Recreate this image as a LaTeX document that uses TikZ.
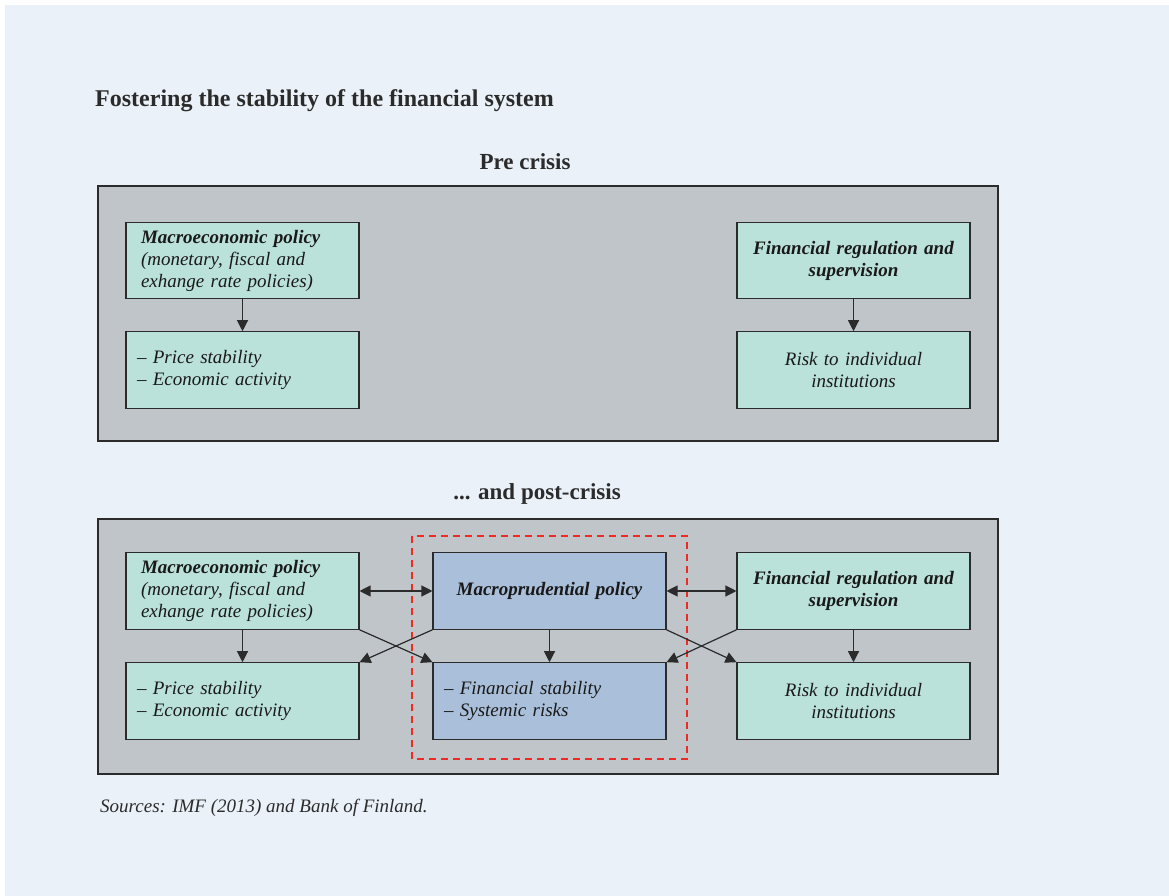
\documentclass[tikz,border=0pt]{standalone}
\usepackage{fontspec}
\setmainfont{Liberation Serif}
\usetikzlibrary{arrows.meta}
\definecolor{bgblue}{HTML}{EAF1F8}
\definecolor{panelgray}{HTML}{C0C5CA}
\definecolor{teal}{HTML}{BBE2DA}
\definecolor{bluebox}{HTML}{AABFD9}
\definecolor{edge}{HTML}{2B2B2B}
\definecolor{dashred}{HTML}{EE2A24}
\tikzset{
  panel/.style={draw=edge, line width=1.3pt, fill=panelgray},
  box/.style={draw=edge, line width=1.1pt, minimum width=233pt, minimum height=76.5pt, inner ysep=0pt, font=\fontsize{19}{22}\selectfont\itshape, text=black!90},
  tealbox/.style={box, fill=teal},
  bluebx/.style={box, fill=bluebox},
  leftbox/.style={text width=211pt, inner xsep=11pt, align=left},
  leftboxwide/.style={text width=203pt, inner xsep=15pt, align=left},
  centerbox/.style={text width=223pt, inner xsep=5pt, align=center},
  arr/.style={draw=edge, line width=1.2pt, -{Triangle[length=11pt,width=11pt]}},
  darr/.style={draw=edge, line width=1.2pt, {Triangle[length=11pt,width=11pt]}-{Triangle[length=11pt,width=11pt]}},
  heading/.style={font=\fontsize{23}{26}\selectfont\bfseries, text=edge},
}
\begin{document}
\begin{tikzpicture}[x=1pt,y=-1pt]
\useasboundingbox (0,0) rectangle (1169,896);
\fill[white] (0,0) rectangle (1169,896);
\fill[bgblue] (5,5) rectangle (1169,896);

\node[heading, font=\fontsize{24}{27}\selectfont\bfseries, anchor=west, inner sep=0pt] (title) at (95,101) {Fostering the stability of the financial system};
\node[heading] (pre) at (525,162) {Pre crisis};

% Pre crisis panel
\draw[panel] (98,186) rectangle (998,441);
\node[tealbox, leftboxwide] (m1) at (242.5,260.5) {\textbf{Macroeconomic policy}\\(monetary, fiscal and\\exhange rate policies)};
\node[tealbox, leftbox] (p1) at (242.5,370) {– Price stability\\– Economic activity};
\node[tealbox, centerbox] (f1) at (853.5,260.5) {\textbf{Financial regulation and}\\\textbf{supervision}};
\node[tealbox, centerbox] (r1) at (853.5,370) {Risk to individual\\institutions};
\draw[arr] (m1) -- (p1);
\draw[arr] (f1) -- (r1);

% Post crisis panel
\node[heading] (post) at (537,494) {... and post-crisis};
\draw[panel] (98,519) rectangle (998,774);
\draw[dashred, line width=2.4pt, dash pattern=on 7pt off 5pt] (412,536) rectangle (687,759);
\node[tealbox, leftboxwide] (m2) at (242.5,591) {\textbf{Macroeconomic policy}\\(monetary, fiscal and\\exhange rate policies)};
\node[tealbox, leftbox] (p2) at (242.5,701) {– Price stability\\– Economic activity};
\node[bluebx, centerbox] (mp) at (549.5,591) {\textbf{Macroprudential policy}};
\node[bluebx, leftbox] (fs) at (549.5,701) {– Financial stability\\– Systemic risks};
\node[tealbox, centerbox] (f2) at (853.5,591) {\textbf{Financial regulation and}\\\textbf{supervision}};
\node[tealbox, centerbox] (r2) at (853.5,701) {Risk to individual\\institutions};

\draw[darr] (m2) -- (mp);
\draw[darr] (mp) -- (f2);
\draw[arr] (m2) -- (p2);
\draw[arr] (mp) -- (fs);
\draw[arr] (f2) -- (r2);
\draw[arr] (m2.south east) -- (fs.north west);
\draw[arr] (mp.south west) -- (p2.north east);
\draw[arr] (mp.south east) -- (r2.north west);
\draw[arr] (f2.south west) -- (fs.north east);

\node[anchor=west, inner sep=0pt, font=\fontsize{19}{22}\selectfont\itshape, text=edge] (src) at (100,808) {Sources: IMF (2013) and Bank of Finland.};
\end{tikzpicture}
\end{document}
